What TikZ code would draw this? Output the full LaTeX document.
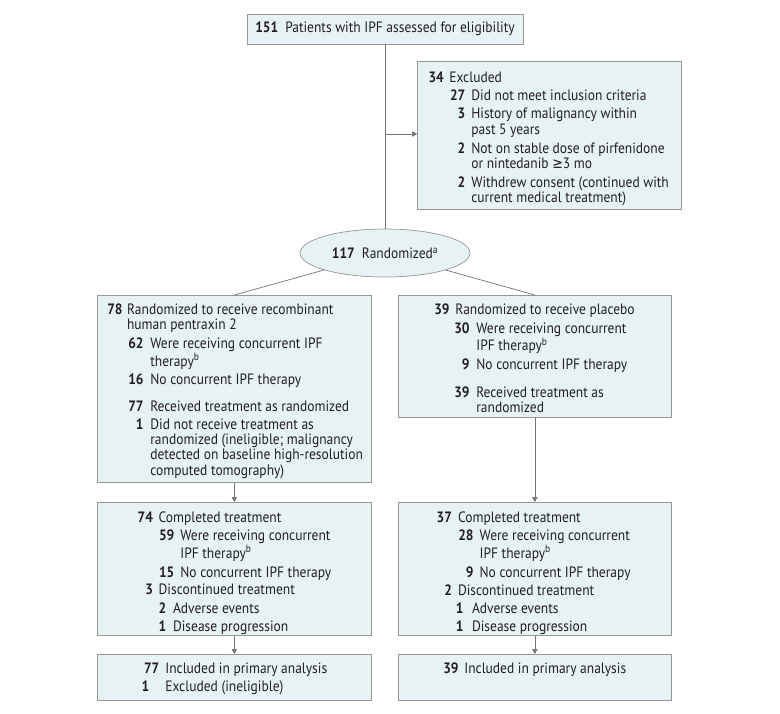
\documentclass[tikz,border=0pt]{standalone}
\usepackage{fontspec}
\setmainfont{PT Sans}[FakeStretch=0.9]
\newfontfamily\symfont{DejaVu Sans}[FakeStretch=0.85]
\usetikzlibrary{arrows.meta,shapes.geometric}
\definecolor{boxfill}{RGB}{231,242,245}
\definecolor{boxline}{RGB}{150,150,150}
\definecolor{linkgray}{RGB}{115,115,115}
\definecolor{txt}{RGB}{35,31,32}
\tikzset{panel/.style={draw=boxline,fill=boxfill,line width=0.7pt,inner sep=0pt,anchor=north west},
	oval/.style={ellipse,draw=boxline,fill=boxfill,line width=0.7pt,inner sep=0pt,
		minimum width=170pt,minimum height=48pt},
	link/.style={draw=linkgray,line width=0.7pt},
	arr/.style={link,-{Triangle[length=5pt,width=5.5pt]}}}
\newcommand{\itemgap}{2.6pt}
\newcommand{\ent}[4]{\par\vspace{\itemgap}\noindent\makebox[#1][r]{\textbf{#3}}%
	\hspace*{\dimexpr#2-#1\relax}\begin{tabular}[t]{@{}l@{}}#4\end{tabular}\par}
\newcommand{\boxtext}[4]{\parbox[c][#2][t]{#1}{\fontsize{15}{15.3}\selectfont
	\vspace*{#3}#4}}

\begin{document}
\begin{tikzpicture}[x=1pt,y=-1pt,every node/.style={text=txt,font=\fontsize{15}{15.3}\selectfont}]
\useasboundingbox (0,0) rectangle (780,713);
\node [panel,anchor=center,minimum width=276pt,minimum height=30pt] (elig) at (385,29)
	{\textbf{151}\hspace{7pt}Patients with IPF assessed for eligibility};
\node [panel] (excl) at (417,61) {\boxtext{264pt}{148pt}{7.4pt}{%
	\ent{26.5pt}{32pt}{34}{Excluded}
	\ent{48pt}{54pt}{27}{Did not meet inclusion criteria}
	\ent{48pt}{54pt}{3}{History of malignancy within\\past 5 years}
	\ent{48pt}{54pt}{2}{Not on stable dose of pirfenidone\\or nintedanib {\symfont ≥}3 mo}
	\ent{48pt}{54pt}{2}{Withdrew consent (continued with\\current medical treatment)}}};
\node [oval] (rand) at (385,253) {\textbf{117}\hspace{7pt}Randomized\textsuperscript{a}};
\node [panel] (rhp) at (97,295) {\boxtext{274pt}{187pt}{6pt}{%
	\ent{25.3pt}{29.7pt}{78}{Randomized to receive recombinant\\human pentraxin 2}
	\ent{46.3pt}{53pt}{62}{Were receiving concurrent IPF\\therapy\textsuperscript{b}}
	\ent{46.3pt}{53pt}{16}{No concurrent IPF therapy}
	\vspace{8.6pt}
	\ent{46.3pt}{53pt}{77}{Received treatment as randomized}
	\ent{46.3pt}{53pt}{1}{Did not receive treatment as\\randomized (ineligible; malignancy\\detected on baseline high-resolution\\computed tomography)}}};
\node [panel] (plac) at (398,295) {\boxtext{273pt}{122pt}{6pt}{%
	\ent{51.3pt}{57pt}{39}{Randomized to receive placebo}
	\ent{71.3pt}{78pt}{30}{Were receiving concurrent\\IPF therapy\textsuperscript{b}}
	\ent{71.3pt}{78pt}{9}{No concurrent IPF therapy}
	\vspace{8.6pt}
	\ent{71.3pt}{78pt}{39}{Received treatment as\\randomized}}};
\node [panel] (rhpdone) at (97,502) {\boxtext{274pt}{133pt}{6.4pt}{%
	\ent{55.7pt}{61.3pt}{74}{Completed treatment}
	\ent{77pt}{83pt}{59}{Were receiving concurrent\\IPF therapy\textsuperscript{b}}
	\ent{77pt}{83pt}{15}{No concurrent IPF therapy}
	\ent{55.7pt}{61.3pt}{3}{Discontinued treatment}
	\ent{69pt}{75.7pt}{2}{Adverse events}
	\ent{69pt}{75.7pt}{1}{Disease progression}}};
\node [panel] (placdone) at (398,502) {\boxtext{273pt}{133pt}{6.4pt}{%
	\ent{53.7pt}{59.7pt}{37}{Completed treatment}
	\ent{75.3pt}{81.3pt}{28}{Were receiving concurrent\\IPF therapy\textsuperscript{b}}
	\ent{75.3pt}{81.3pt}{9}{No concurrent IPF therapy}
	\ent{53.7pt}{59.7pt}{2}{Discontinued treatment}
	\ent{65.3pt}{73.7pt}{1}{Adverse events}
	\ent{65.3pt}{73.7pt}{1}{Disease progression}}};
\node [panel] (rhpanal) at (97,654) {\boxtext{274pt}{46pt}{6pt}{%
	\ent{62pt}{68pt}{77}{Included in primary analysis}
	\ent{52pt}{68pt}{1}{Excluded (ineligible)}}};
\node [panel] (placanal) at (398,654) {\boxtext{273pt}{46pt}{6pt}{%
	\ent{60.3pt}{66pt}{39}{Included in primary analysis}}};
\coordinate (split) at (385,134);
\draw [link] (elig) -- (rand);
\draw [arr] (split) -- (split -| excl.west);
\draw [link] (rand) -- (rhp.north);
\draw [link] (rand) -- (plac.north);
\draw [arr] (rhp.south) -- (rhpdone.north);
\draw [arr] (plac.south) -- (placdone.north);
\draw [arr] (rhpdone.south) -- (rhpanal.north);
\draw [arr] (placdone.south) -- (placanal.north);
\end{tikzpicture}
\end{document}
